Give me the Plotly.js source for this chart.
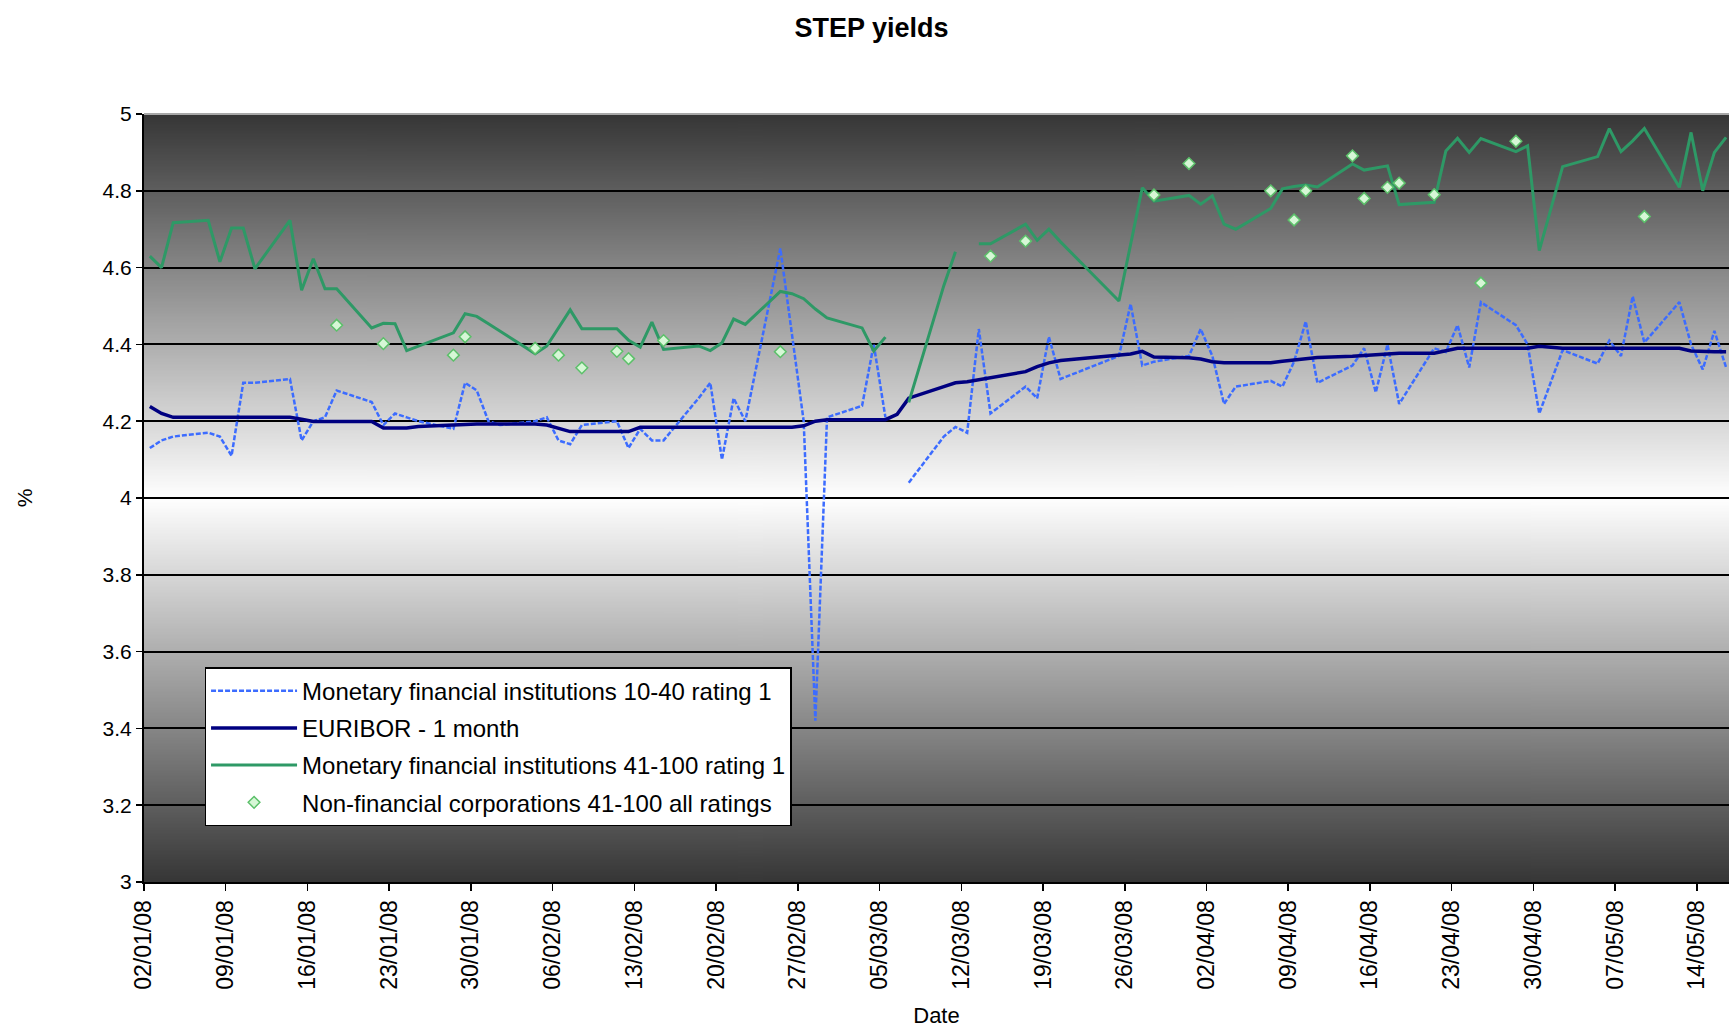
<!DOCTYPE html>
<html>
<head>
<meta charset="utf-8">
<script src="https://cdn.plot.ly/plotly-3.0.1.min.js"></script>
<style>
  html, body { margin: 0; padding: 0; background: #ffffff; }
  #chart { width: 1729px; height: 1028px; }
</style>
</head>
<body>
<div id="chart"></div>
<script>
// ---- Data (TARGET business days, Jan 2 – May 16, 2008) ----
const dates = [
  "2008-01-02","2008-01-03","2008-01-04","2008-01-07","2008-01-08","2008-01-09","2008-01-10","2008-01-11","2008-01-14","2008-01-15","2008-01-16","2008-01-17","2008-01-18","2008-01-21","2008-01-22","2008-01-23","2008-01-24","2008-01-25","2008-01-28","2008-01-29","2008-01-30","2008-01-31",
  "2008-02-01","2008-02-04","2008-02-05","2008-02-06","2008-02-07","2008-02-08","2008-02-11","2008-02-12","2008-02-13","2008-02-14","2008-02-15","2008-02-18","2008-02-19","2008-02-20","2008-02-21","2008-02-22","2008-02-25","2008-02-26","2008-02-27","2008-02-28","2008-02-29",
  "2008-03-03","2008-03-04","2008-03-05","2008-03-06","2008-03-07","2008-03-10","2008-03-11","2008-03-12","2008-03-13","2008-03-14","2008-03-17","2008-03-18","2008-03-19","2008-03-20","2008-03-25","2008-03-26","2008-03-27","2008-03-28","2008-03-31",
  "2008-04-01","2008-04-02","2008-04-03","2008-04-04","2008-04-07","2008-04-08","2008-04-09","2008-04-10","2008-04-11","2008-04-14","2008-04-15","2008-04-16","2008-04-17","2008-04-18","2008-04-21","2008-04-22","2008-04-23","2008-04-24","2008-04-25","2008-04-28","2008-04-29","2008-04-30",
  "2008-05-02","2008-05-05","2008-05-06","2008-05-07","2008-05-08","2008-05-09","2008-05-12","2008-05-13","2008-05-14","2008-05-15","2008-05-16"
];

// Monetary financial institutions 10-40 rating 1
const mfi1040 = [
  4.13, 4.15, 4.16, 4.17, 4.16, 4.11, 4.30, 4.30, 4.31, 4.15, 4.20, 4.21, 4.28, 4.25, 4.19, 4.22, 4.21, 4.20, 4.18, 4.30, 4.28, 4.20,
  4.19, 4.20, 4.21, 4.15, 4.14, 4.19, 4.20, 4.13, 4.18, 4.15, 4.15, 4.26, 4.30, 4.10, 4.26, 4.20, 4.65, 4.42, 4.20, 3.42, 4.21,
  4.24, 4.40, 4.21, null, 4.04, 4.16, 4.185, 4.17, 4.44, 4.22, 4.29, 4.26, 4.42, 4.31, 4.37, 4.505, 4.345, 4.355, 4.37,
  4.44, 4.37, 4.245, 4.29, 4.305, 4.29, 4.355, 4.46, 4.30, 4.345, 4.39, 4.275, 4.40, 4.245, 4.39, 4.38, 4.45, 4.34, 4.51, 4.45, 4.40, 4.22,
  4.385, 4.35, 4.41, 4.37, 4.525, 4.405, 4.51, 4.40, 4.335, 4.435, 4.34
];

// EURIBOR - 1 month
const euribor1m = [
  4.238, 4.22, 4.21, 4.21, 4.21, 4.21, 4.21, 4.21, 4.21, 4.205, 4.199, 4.199, 4.199, 4.199, 4.182, 4.182, 4.182, 4.186, 4.19, 4.193, 4.193, 4.193,
  4.193, 4.193, 4.19, 4.182, 4.173, 4.173, 4.173, 4.173, 4.184, 4.184, 4.184, 4.184, 4.184, 4.184, 4.184, 4.184, 4.184, 4.184, 4.188, 4.20, 4.204,
  4.204, 4.204, 4.204, 4.218, 4.26, 4.29, 4.30, 4.303, 4.308, 4.312, 4.329, 4.342, 4.352, 4.358, 4.371, 4.375, 4.382, 4.367, 4.365,
  4.362, 4.355, 4.352, 4.352, 4.352, 4.356, 4.36, 4.362, 4.366, 4.369, 4.371, 4.375, 4.377, 4.377, 4.377, 4.384, 4.39, 4.39, 4.39, 4.39, 4.39, 4.395,
  4.39, 4.39, 4.39, 4.39, 4.39, 4.39, 4.39, 4.383, 4.381, 4.381, 4.381
];

// Monetary financial institutions 41-100 rating 1
const mfi41100 = [
  4.63, 4.60, 4.717, 4.723, 4.615, 4.703, 4.703, 4.597, 4.723, 4.541, 4.623, 4.545, 4.545, 4.443, 4.455, 4.454, 4.384, 4.396, 4.43, 4.48, 4.473, 4.454,
  4.434, 4.376, 4.396, 4.443, 4.49, 4.441, 4.441, 4.411, 4.393, 4.458, 4.387, 4.396, 4.384, 4.404, 4.466, 4.452, 4.538, 4.532, 4.519, 4.492, 4.469,
  4.443, 4.383, 4.419, null, 4.249, 4.553, 4.641, null, 4.662, 4.662, 4.713, 4.671, 4.70, 4.667, 4.513, 4.661, 4.808, 4.773, 4.788,
  4.765, 4.787, 4.713, 4.70, 4.754, 4.805, 4.811, 4.815, 4.81, 4.87, 4.854, 4.86, 4.865, 4.764, 4.77, 4.904, 4.937, 4.90, 4.936, 4.902, 4.917, 4.644,
  4.863, 4.889, 4.962, 4.902, 4.93, 4.962, 4.809, 4.952, 4.80, 4.90, 4.939
];

// Non-financial corporations 41-100 all ratings (sparse)
const nfcDates = [
  "2008-01-18","2008-01-22","2008-01-28","2008-01-29","2008-02-04","2008-02-06","2008-02-08","2008-02-11","2008-02-12","2008-02-15","2008-02-25",
  "2008-03-14","2008-03-17","2008-03-28","2008-03-31","2008-04-07","2008-04-09","2008-04-10","2008-04-14","2008-04-15","2008-04-17","2008-04-18",
  "2008-04-21","2008-04-25","2008-04-28","2008-05-09"
];
const nfc41100 = [
  4.45, 4.402, 4.372, 4.42, 4.39, 4.372, 4.339, 4.382, 4.363, 4.41, 4.381,
  4.63, 4.669, 4.789, 4.871, 4.80, 4.724, 4.80, 4.891, 4.78, 4.809, 4.82,
  4.79, 4.56, 4.929, 4.733
];

const seriesNames = [
  "Monetary financial institutions 10-40 rating 1",
  "EURIBOR - 1 month",
  "Monetary financial institutions 41-100 rating 1",
  "Non-financial corporations 41-100 all ratings"
];

// Excel date axis "between tick marks": each day's value sits mid-day
const midDay = d => d + " 12:00";
const xDays = dates.map(midDay);
const xNfc = nfcDates.map(midDay);

// Plot-area background gradient (dark – white – dark)
function gradientURL() {
  const c = document.createElement('canvas');
  c.width = 4; c.height = 512;
  const g = c.getContext('2d');
  const gr = g.createLinearGradient(0, 0, 0, 512);
  gr.addColorStop(0, '#363636');
  gr.addColorStop(0.5, '#ffffff');
  gr.addColorStop(1, '#363636');
  g.fillStyle = gr;
  g.fillRect(0, 0, 4, 512);
  return c.toDataURL('image/png');
}

const traces = [
  {
    type: 'scatter', mode: 'lines', name: seriesNames[0], legendgroup: 'a',
    x: xDays, y: mfi1040, connectgaps: false,
    line: { color: '#3c6cff', width: 2.5, dash: '5px,2px' }
  },
  {
    type: 'scatter', mode: 'lines', name: seriesNames[1], legendgroup: 'b',
    x: xDays, y: euribor1m, connectgaps: false,
    line: { color: '#000080', width: 3.5 }
  },
  {
    type: 'scatter', mode: 'lines', name: seriesNames[2], legendgroup: 'c',
    x: xDays, y: mfi41100, connectgaps: false,
    line: { color: '#2e9966', width: 3 }
  },
  {
    type: 'scatter', mode: 'markers', name: seriesNames[3], legendgroup: 'd',
    x: xNfc, y: nfc41100,
    marker: { symbol: 'diamond', size: 9, color: '#d6f7d6', line: { color: '#5cc06a', width: 1.5 } }
  }
];

const layout = {
  width: 1729, height: 1028,
  margin: { l: 144, r: 0, t: 114, b: 146, pad: 0 },
  paper_bgcolor: '#ffffff',
  plot_bgcolor: '#ffffff',
  font: { family: 'Liberation Sans, Arial, sans-serif', color: '#000000', size: 20 },
  title: {
    text: '<b>STEP yields</b>', font: { size: 27, color: '#000000' },
    xref: 'container', x: 0.504, xanchor: 'center',
    yref: 'container', y: 0.973, yanchor: 'middle'
  },
  xaxis: {
    type: 'date',
    range: ['2008-01-02 00:00', '2008-05-16 18:00'],
    tick0: '2008-01-02', dtick: 604800000,
    tickformat: '%d/%m/%y', tickangle: -90,
    ticks: 'outside', ticklen: 7, tickwidth: 1.5, tickcolor: '#000000',
    showline: true, linecolor: '#000000', linewidth: 2,
    showgrid: false, zeroline: false,
    tickfont: { size: 23 },
    title: { text: 'Date', font: { size: 22 }, standoff: 24 },
    automargin: false
  },
  yaxis: {
    range: [3, 5], tick0: 3, dtick: 0.2,
    ticks: 'outside', ticklen: 6, tickwidth: 1.5, tickcolor: '#000000',
    showline: true, linecolor: '#000000', linewidth: 2,
    showgrid: true, gridcolor: '#000000', gridwidth: 2,
    zeroline: false,
    tickfont: { size: 21 },
    title: { text: '%', font: { size: 21 }, standoff: 64 },
    automargin: false
  },
  legend: {
    x: 0.0382, y: 0.2798, xanchor: 'left', yanchor: 'top',
    bgcolor: '#ffffff', bordercolor: '#000000', borderwidth: 1.5,
    font: { size: 24 }, itemwidth: 86,
    traceorder: 'grouped', tracegroupgap: 3
  },
  images: [{
    source: gradientURL(), xref: 'paper', yref: 'paper',
    x: 0, y: 1, sizex: 1, sizey: 1, sizing: 'stretch',
    xanchor: 'left', yanchor: 'top', layer: 'below'
  }],
  shapes: [{
    type: 'line', xref: 'paper', yref: 'paper', x0: 0, x1: 1, y0: 1, y1: 1,
    line: { color: '#a8a8a8', width: 2 }, layer: 'above'
  }],
  showlegend: true
};

Plotly.newPlot('chart', traces, layout, { displayModeBar: false, staticPlot: true });
</script>
</body>
</html>
